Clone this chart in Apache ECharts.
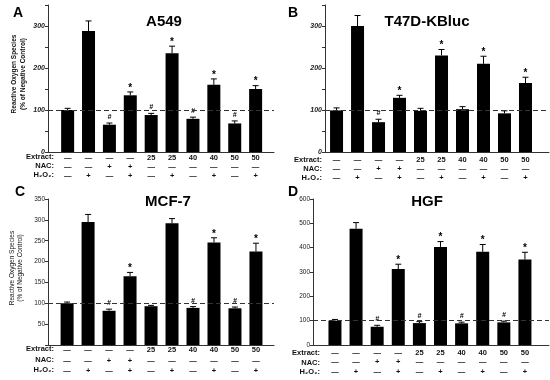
<!DOCTYPE html>
<html><head><meta charset="utf-8">
<script src="https://cdn.jsdelivr.net/npm/echarts@6/dist/echarts.min.js"></script>
<style>html,body{margin:0;padding:0;background:#fff}#c{width:550px;height:380px}</style>
</head><body><div id="c"></div>
<script>
// ---- table rows (x-axis labels) ----
const extractRow = ['—','—','—','—','25','25','40','40','50','50'];
const nacRow     = ['—','—','+','+','—','—','—','—','—','—'];
const h2o2Row    = ['—','+','—','+','—','+','—','+','—','+'];
const rowHeaders = ['Extract:', 'NAC:', 'H₂O₂:'];

// ---- panel A: A549 ----
const a549Values = [100, 288, 65, 135, 88, 235, 79, 160, 68, 150];
const a549Err    = [4, 24, 4, 8, 4, 17, 4, 14, 6, 8];
const a549Marks  = ['', '', '#', '*', '#', '*', '#', '*', '#', '*'];
// ---- panel B: T47D-KBluc ----
const t47dValues = [99, 300, 71, 129, 98, 230, 102, 210, 92, 164];
const t47dErr    = [6, 25, 7, 6, 6, 14, 6, 18, 6, 14];
const t47dMarks  = ['', '', '#', '*', '', '*', '', '*', '', '*'];
// ---- panel C: MCF-7 ----
const mcf7Values = [100, 295, 82, 165, 93, 292, 89, 246, 88, 224];
const mcf7Err    = [3, 18, 4, 9, 2, 11, 3, 11, 3, 20];
const mcf7Marks  = ['', '', '#', '*', '', '', '#', '*', '#', '*'];
// ---- panel D: HGF ----
const hgfValues  = [100, 478, 75, 312, 90, 403, 89, 383, 93, 351];
const hgfErr     = [5, 25, 6, 20, 6, 22, 5, 30, 5, 30];
const hgfMarks   = ['', '', '#', '*', '#', '*', '#', '*', '#', '*'];

const titles = ['A549', 'T47D-KBluc', 'MCF-7', 'HGF'];
const letters = ['A', 'B', 'C', 'D'];
const yName = 'Reactive Oxygen Species\n(% of Negative Control)';

const FONT = '"Liberation Sans", Arial, Helvetica, sans-serif';
const INK = '#111';

const panels = [
  {values:a549Values, err:a549Err, marks:a549Marks,
   grid:{left:48, top:5, width:226, height:147}, xMin:-0.94, xMax:9.88,
   yMax:350, yInt:50, hide:v=>v%100!==0, lab:{fontStyle:'italic', fontWeight:'bold', fontSize:7},
   xMargin:1, lineH:9, hdrX:54, hdrY:[157,166,175]},
  {values:t47dValues, err:t47dErr, marks:t47dMarks,
   grid:{left:325, top:5, width:224, height:147}, xMin:-0.55, xMax:10.12,
   yMax:350, yInt:50, hide:v=>v%100!==0, lab:{fontStyle:'italic', fontWeight:'bold', fontSize:7},
   xMargin:3, lineH:9, hdrX:322, hdrY:[160,169,178]},
  {values:mcf7Values, err:mcf7Err, marks:mcf7Marks,
   grid:{left:48, top:199, width:226, height:146}, xMin:-0.91, xMax:9.86,
   yMax:350, yInt:50, hide:v=>v===0, lab:{fontSize:6.5},
   xMargin:0, lineH:10.5, hdrX:54, hdrY:[349,360,370]},
  {values:hgfValues, err:hgfErr, marks:hgfMarks,
   grid:{left:313, top:199, width:236, height:146}, xMin:-1.04, xMax:10.14,
   yMax:600, yInt:100, hide:v=>false, lab:{fontSize:6.5},
   xMargin:3, lineH:9.5, hdrX:320, hdrY:[353,363,372]}
];

const xs = extractRow.map((_, i) => i);
const option = {
  animation: false,
  backgroundColor: '#fff',
  grid: [], xAxis: [], yAxis: [], series: [], graphic: []
};

panels.forEach((p, k) => {
  option.grid.push(p.grid);
  option.xAxis.push({
    type:'value', gridIndex:k, min:p.xMin, max:p.xMax,
    axisLine:{show:true, onZero:false, lineStyle:{color:'#333', width:1}},
    axisTick:{show:false}, splitLine:{show:false},
    axisLabel:{customValues: xs, margin:p.xMargin, lineHeight:p.lineH, color:INK,
      fontFamily:FONT, fontWeight:'bold', fontSize:7.5, verticalAlign:'top',
      formatter: v => { const i = Math.round(v); return extractRow[i] + '\n' + nacRow[i] + '\n' + h2o2Row[i]; }}
  });
  option.yAxis.push({
    type:'value', gridIndex:k, min:0, max:p.yMax, interval:p.yInt,
    axisLine:{show:true, onZero:false, lineStyle:{color:'#333', width:1}},
    axisTick:{show:true, length:3, lineStyle:{color:'#333'}},
    splitLine:{show:false},
    axisLabel:Object.assign({margin:3, color:'#222', fontFamily:FONT,
      formatter: v => p.hide(v) ? '' : String(v)}, p.lab)
  });
  option.series.push({
    type:'bar', xAxisIndex:k, yAxisIndex:k, barWidth:13,
    itemStyle:{color:'#000'},
    data: p.values.map((v, i) => [i, v]),
    markLine:{silent:true, symbol:'none', label:{show:false},
      lineStyle:{type:[5,3], color:'#333', width:1},
      data:[{yAxis:100}]}
  });
  option.series.push({
    type:'custom', xAxisIndex:k, yAxisIndex:k,
    data: p.values.map((v, i) => [i, v, p.err[i]]),
    encode:{x:0, y:1},
    renderItem: (params, api) => {
      const x = api.value(0), v = api.value(1), e = api.value(2);
      const p0 = api.coord([x, v]), p1 = api.coord([x, v + e]);
      const st = {stroke:'#000', lineWidth:1};
      const mark = p.marks[params.dataIndex];
      const children = [
        {type:'line', shape:{x1:p0[0], y1:p0[1], x2:p1[0], y2:p1[1]}, style:st},
        {type:'line', shape:{x1:p1[0]-3, y1:p1[1], x2:p1[0]+3, y2:p1[1]}, style:st}
      ];
      if (mark) {
        const star = mark === '*';
        children.push({type:'text', x:p1[0], y:p1[1] - (star ? 4 : 6),
          style:{text:mark, textAlign:'center', textVerticalAlign:'middle', fill:'#000',
            font: star ? 'bold 10px ' + FONT : 'italic bold 7px ' + FONT}});
      }
      return {type:'group', children};
    }
  });
  // row headers
  rowHeaders.forEach((h, r) => {
    option.graphic.push({type:'text', x:p.hdrX, y:p.hdrY[r],
      style:{text:h, textAlign:'right', textVerticalAlign:'middle', fill:INK,
        font:'bold 7.5px ' + FONT}});
  });
});

// titles and panel letters
const titlePos = [[164,22],[427,22],[168,202],[427,202]];
const letterPos = [[13,13],[288,13],[15,192],[288,192]];
titles.forEach((t, k) => {
  option.graphic.push({type:'text', x:titlePos[k][0], y:titlePos[k][1],
    style:{text:t, textAlign:'center', textVerticalAlign:'middle', fill:'#000', font:'bold 15px ' + FONT}});
  option.graphic.push({type:'text', x:letterPos[k][0], y:letterPos[k][1],
    style:{text:letters[k], textAlign:'left', textVerticalAlign:'middle', fill:'#000', font:'bold 14px ' + FONT}});
});
// y axis names (panels A and C)
option.graphic.push({type:'text', x:18.5, y:74, rotation:Math.PI/2,
  style:{text:yName, textAlign:'center', textVerticalAlign:'middle', fill:INK,
    font:'bold 6.5px ' + FONT, lineHeight:9}});
option.graphic.push({type:'text', x:16, y:268, rotation:Math.PI/2,
  style:{text:yName, textAlign:'center', textVerticalAlign:'middle', fill:INK,
    font:'6.5px ' + FONT, lineHeight:8.5}});

const chart = echarts.init(document.getElementById('c'), null, {renderer:'canvas'});
chart.setOption(option);
</script>
</body></html>
